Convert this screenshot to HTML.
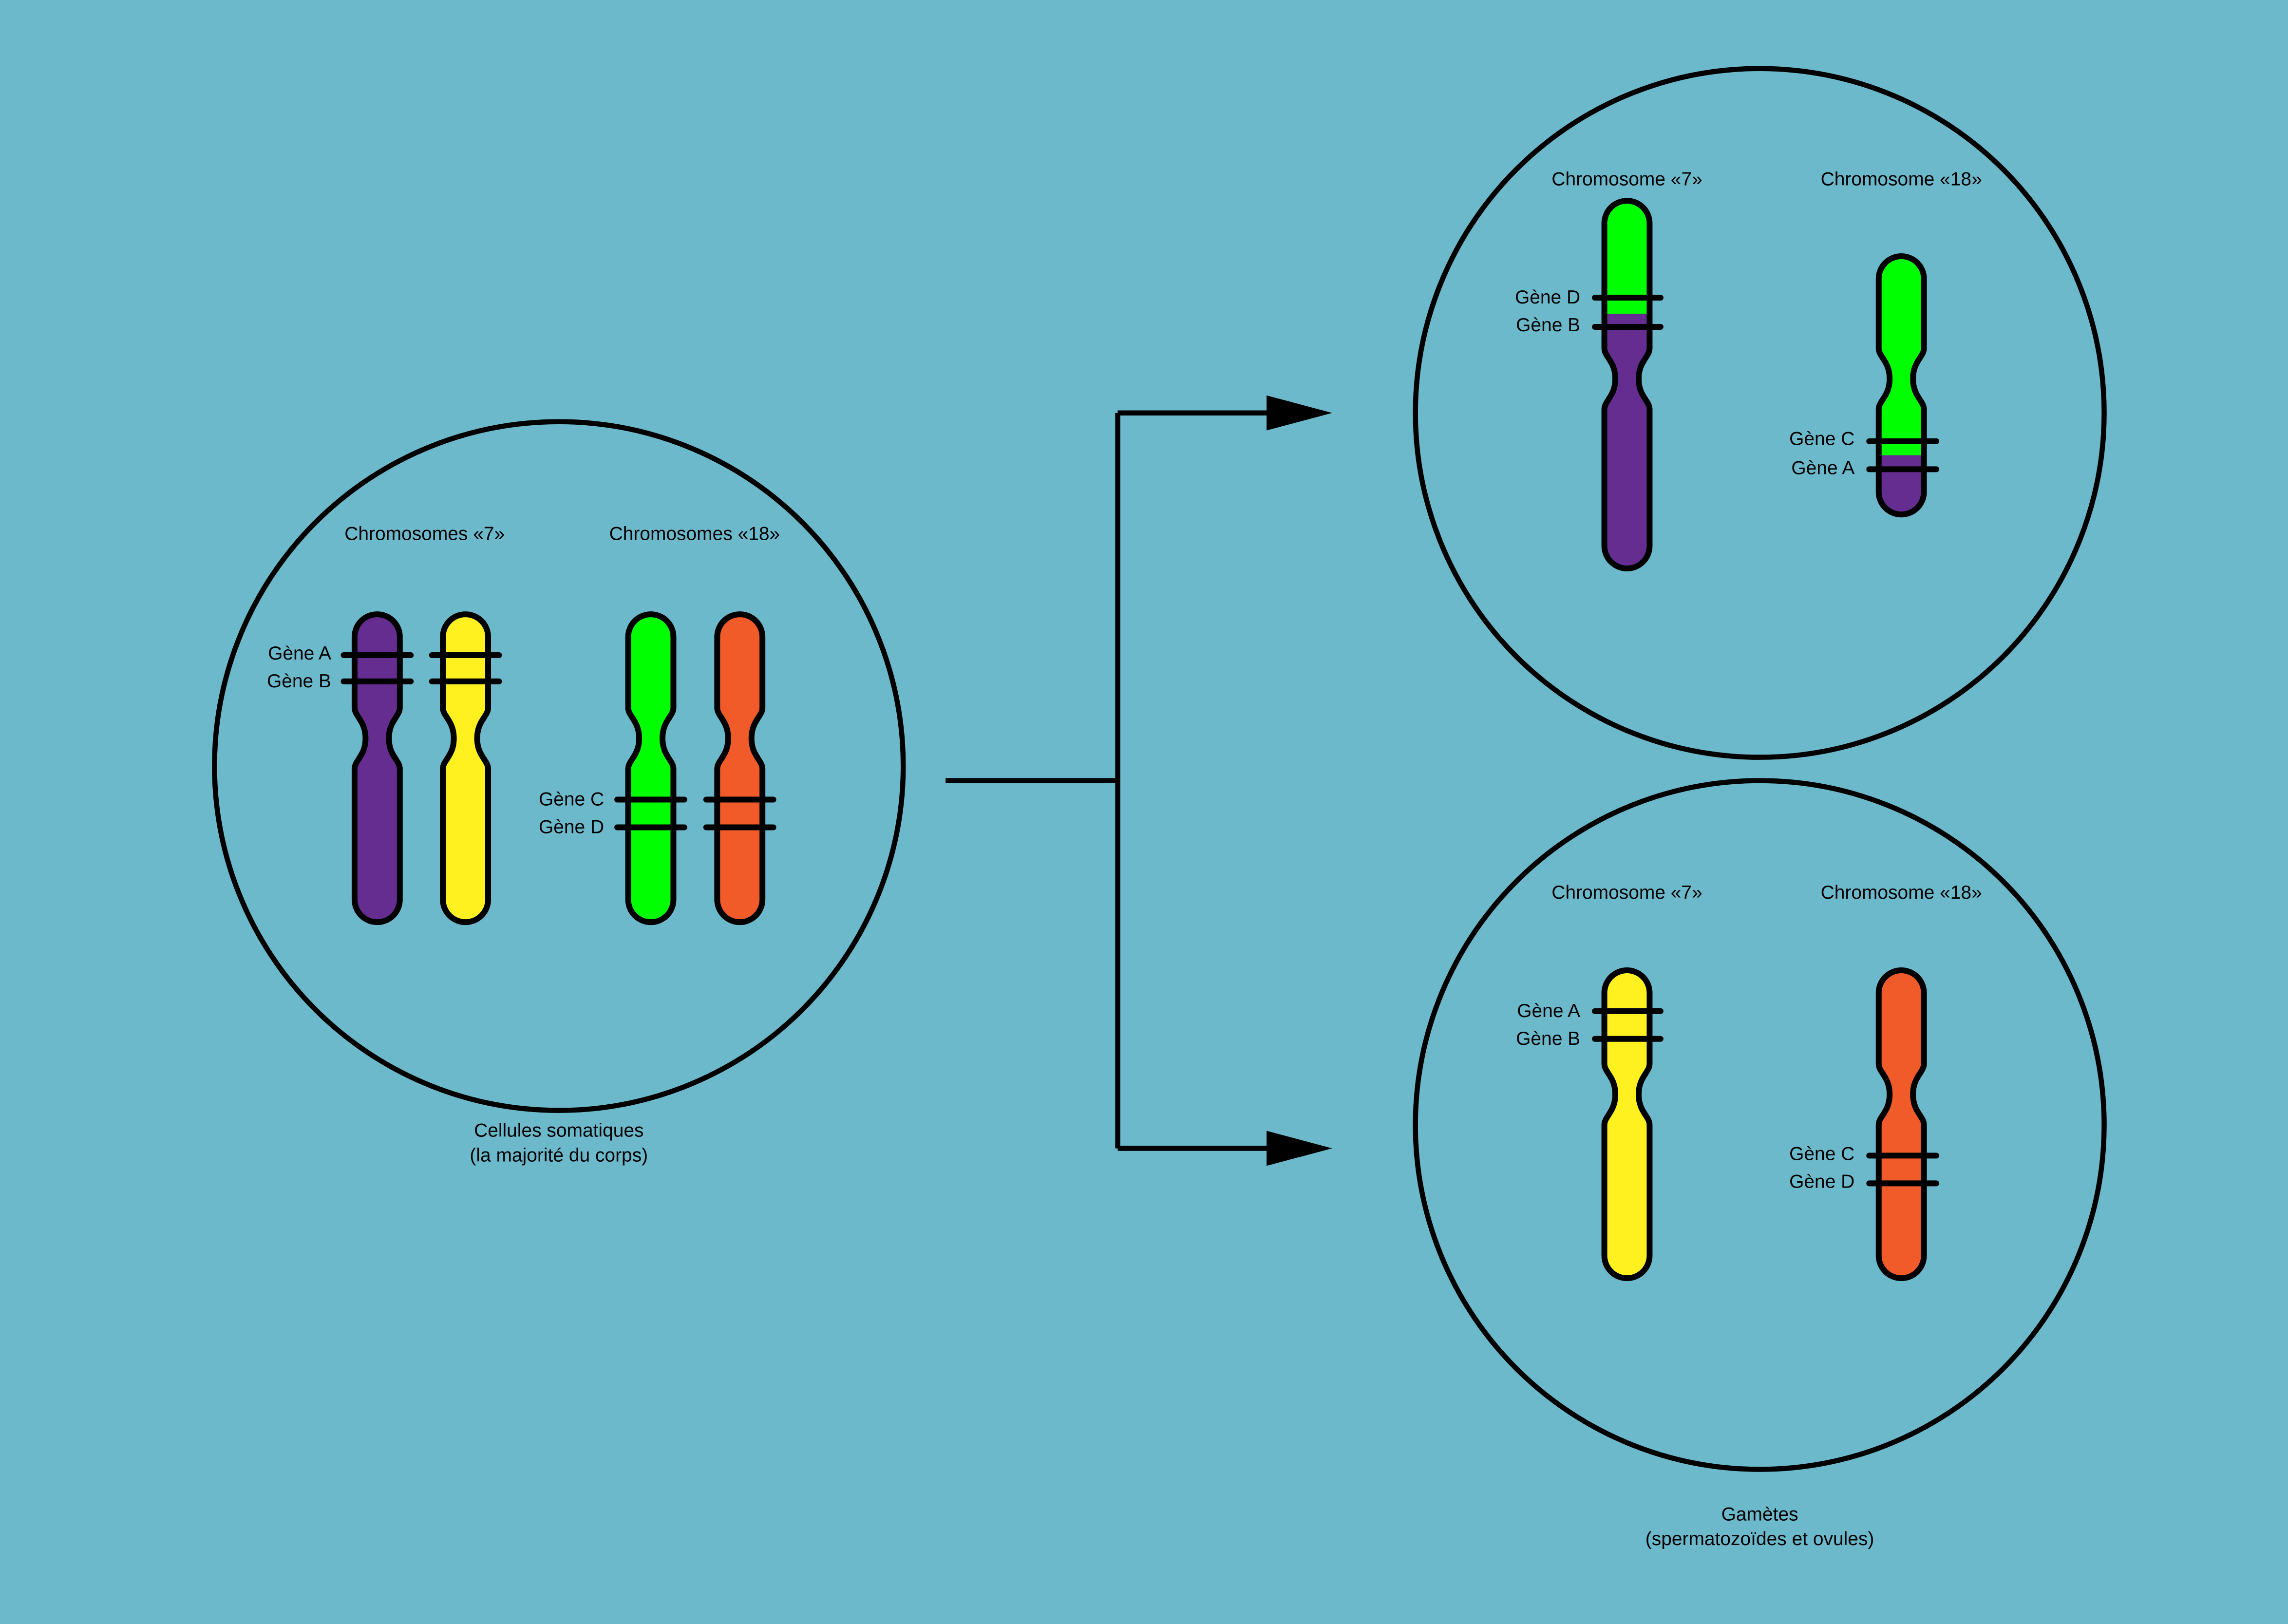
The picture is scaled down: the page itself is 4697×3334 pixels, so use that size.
<!DOCTYPE html>
<html><head><meta charset="utf-8"><style>
html,body{margin:0;padding:0;background:#6cb9cc;}
svg{display:block}
text{font-family:"Liberation Sans Narrow","Liberation Sans",sans-serif;font-size:13px;fill:#000}
</style></head><body>
<svg width="4697" height="3334" viewBox="0 0 1568 1113" xmlns="http://www.w3.org/2000/svg">
<defs>
<path id="S" d="M-15.5,15.5 A15.5,15.5 0 0 1 15.5,15.5 V64 C15.5,70 8,73 8,85 C8,97 15.5,100 15.5,106 V195.5 A15.5,15.5 0 0 1 -15.5,195.5 V106 C-15.5,100 -8,97 -8,85 C-8,73 -15.5,70 -15.5,64 Z"/>
<path id="L" d="M-15.5,15.5 A15.5,15.5 0 0 1 15.5,15.5 V101 C15.5,107 8,110 8,122 C8,134 15.5,137 15.5,143 V236.5 A15.5,15.5 0 0 1 -15.5,236.5 V143 C-15.5,137 -8,134 -8,122 C-8,110 -15.5,107 -15.5,101 Z"/>
<path id="M" d="M-15.5,15.5 A15.5,15.5 0 0 1 15.5,15.5 V63 C15.5,69 8,72 8,84 C8,96 15.5,99 15.5,105 V161.5 A15.5,15.5 0 0 1 -15.5,161.5 V105 C-15.5,99 -8,96 -8,84 C-8,72 -15.5,69 -15.5,63 Z"/>
<clipPath id="cL"><use href="#L"/></clipPath>
<clipPath id="cM"><use href="#M"/></clipPath>
</defs>
<rect width="1568" height="1113" fill="#6cb9cc"/>
<g fill="none" stroke="#000" stroke-width="3.5">
<circle cx="383" cy="525" r="236"/>
<circle cx="1206" cy="283" r="236"/>
<circle cx="1206" cy="771" r="236"/>
<path d="M648,535 H766 M766,283 V787 M766,283 H872 M766,787 H872"/>
</g>
<polygon points="868,271 913,283 868,295" fill="#000"/>
<polygon points="868,775 913,787 868,799" fill="#000"/>

<g stroke="#000" stroke-width="4" stroke-linecap="round">
<g transform="translate(258.5,421)"><use href="#S" fill="#652d90"/><path d="M-23,28H23M-23,46H23"/></g>
<g transform="translate(319,421)"><use href="#S" fill="#fff01f"/><path d="M-23,28H23M-23,46H23"/></g>
<g transform="translate(446,421)"><use href="#S" fill="#00ff00"/><path d="M-23,127H23M-23,146H23"/></g>
<g transform="translate(507,421)"><use href="#S" fill="#f15a29"/><path d="M-23,127H23M-23,146H23"/></g>

<g transform="translate(1115,137.6)"><use href="#L" fill="#00ff00" stroke="none"/><rect x="-20" y="77.4" width="40" height="200" fill="#652d90" stroke="none" clip-path="url(#cL)"/><use href="#L" fill="none"/><path d="M-22,66.4H23M-22,86.4H23"/></g>
<g transform="translate(1303,175.6)"><use href="#M" fill="#00ff00" stroke="none"/><rect x="-20" y="136.4" width="40" height="100" fill="#652d90" stroke="none" clip-path="url(#cM)"/><use href="#M" fill="none"/><path d="M-22,126.8H24M-22,146H24"/></g>

<g transform="translate(1115,665)"><use href="#S" fill="#fff01f"/><path d="M-22,28H23M-22,47H23"/></g>
<g transform="translate(1303,665)"><use href="#S" fill="#f15a29"/><path d="M-22,127H24M-22,146H24"/></g>
</g>

<text x="291" y="370" text-anchor="middle">Chromosomes «7»</text>
<text x="476" y="370" text-anchor="middle">Chromosomes «18»</text>
<text x="227" y="452" text-anchor="end">Gène A</text>
<text x="227" y="471" text-anchor="end">Gène B</text>
<text x="414" y="552" text-anchor="end">Gène C</text>
<text x="414" y="571" text-anchor="end">Gène D</text>
<text x="383" y="779" text-anchor="middle">Cellules somatiques</text>
<text x="383" y="796" text-anchor="middle">(la majorité du corps)</text>

<text x="1115" y="127" text-anchor="middle">Chromosome «7»</text>
<text x="1303" y="127" text-anchor="middle">Chromosome «18»</text>
<text x="1083" y="208" text-anchor="end">Gène D</text>
<text x="1083" y="227" text-anchor="end">Gène B</text>
<text x="1271" y="305" text-anchor="end">Gène C</text>
<text x="1271" y="325" text-anchor="end">Gène A</text>

<text x="1115" y="616" text-anchor="middle">Chromosome «7»</text>
<text x="1303" y="616" text-anchor="middle">Chromosome «18»</text>
<text x="1083" y="697" text-anchor="end">Gène A</text>
<text x="1083" y="716" text-anchor="end">Gène B</text>
<text x="1271" y="795" text-anchor="end">Gène C</text>
<text x="1271" y="814" text-anchor="end">Gène D</text>

<text x="1206" y="1042" text-anchor="middle">Gamètes</text>
<text x="1206" y="1059" text-anchor="middle">(spermatozoïdes et ovules)</text>
</svg>
</body></html>
